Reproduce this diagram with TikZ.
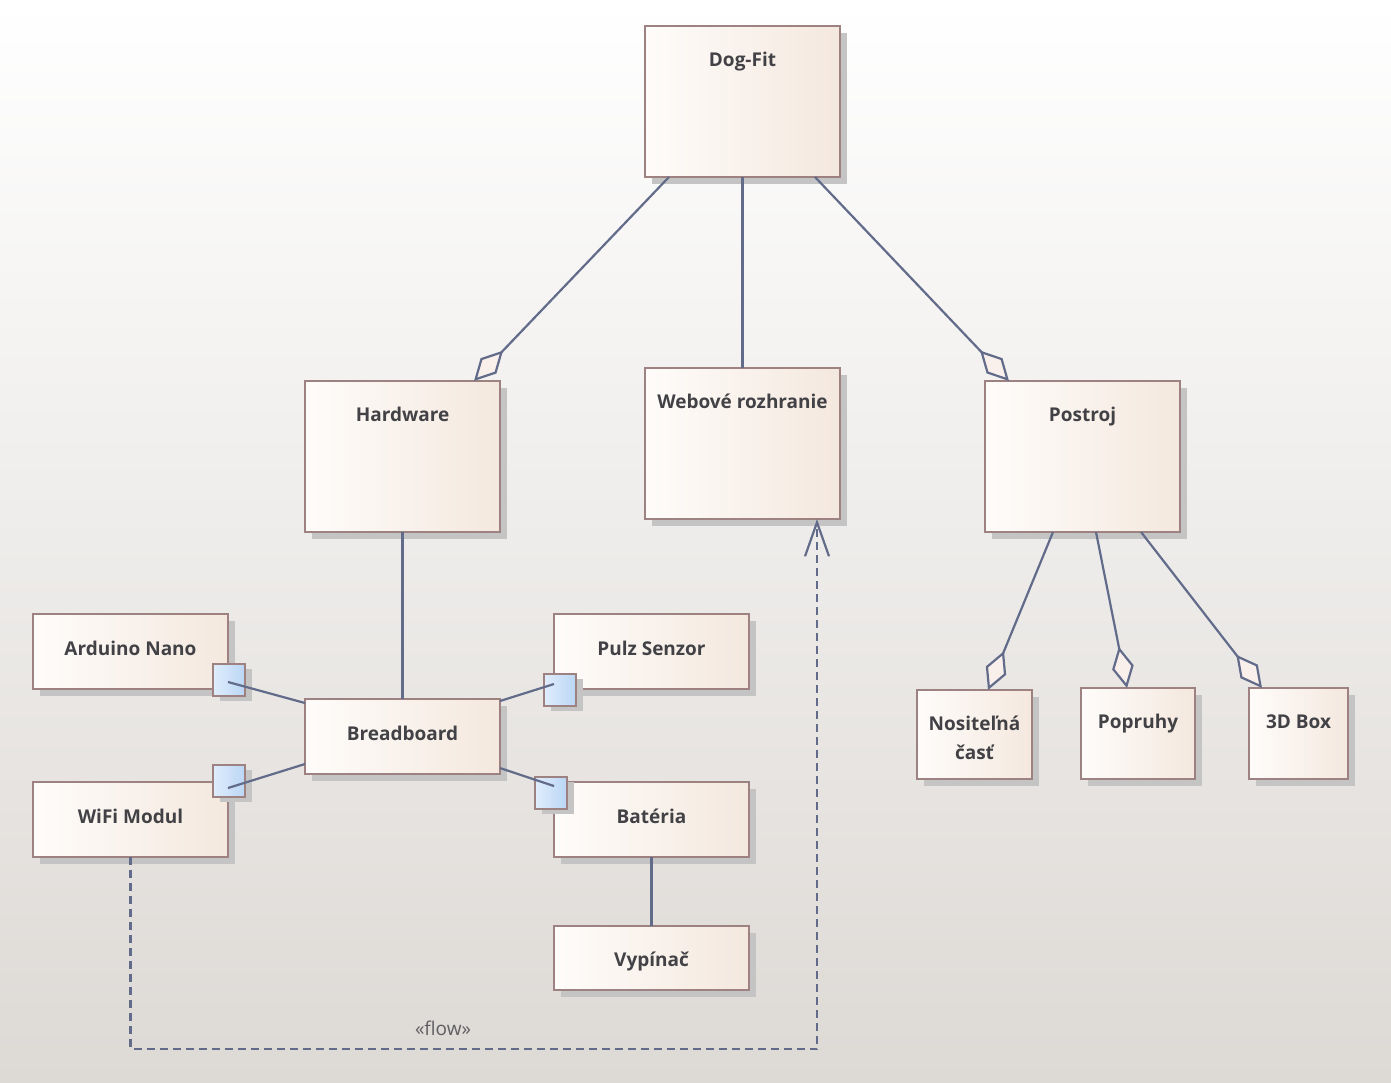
\documentclass[tikz,border=0pt]{standalone}
\usepackage{fontspec}
\setmainfont{Open Sans}
\usetikzlibrary{arrows.meta,shadows}
\definecolor{bgbot}{RGB}{221,217,213}
\definecolor{boxline}{RGB}{158,130,130}
\definecolor{boxleft}{RGB}{254,252,250}
\definecolor{boxright}{RGB}{244,232,222}
\definecolor{connc}{RGB}{98,108,138}
\definecolor{txt}{RGB}{66,66,70}
\definecolor{portl}{RGB}{224,237,252}
\definecolor{portr}{RGB}{186,214,245}
\definecolor{shad}{RGB}{196,196,196}
\definecolor{dfill}{RGB}{249,240,236}
\tikzset{
  box/.style={draw=boxline, line width=2.4pt, left color=boxleft, right color=boxright,
    anchor=north west, inner sep=0pt, outer sep=0pt,
    general shadow={fill=shad, shadow xshift=7pt, shadow yshift=-7pt},
    font=\fontsize{19}{29}\selectfont\bfseries, text=txt, align=center,
    text height=12pt, text depth=5pt},
  title/.style={font=\fontsize{19}{29}\selectfont\bfseries, text=txt, anchor=base,
    inner sep=0pt, yshift=-40pt, align=center},
  titled/.style={label={[title]north:#1}},
  port/.style={draw=boxline, line width=2.4pt, left color=portl, right color=portr,
    anchor=north west, minimum width=32pt, minimum height=32pt, inner sep=0pt, outer sep=0pt,
    general shadow={fill=shad, shadow xshift=7pt, shadow yshift=-5pt}},
  conn/.style={draw=connc, line width=2.2pt},
  agg/.style={conn, -{Diamond[fill=dfill, length=42pt, width=22pt, line width=2.2pt]}},
  flowline/.style={draw=connc, line width=2.2pt, dash pattern=on 8pt off 5pt,
    -{Straight Barb[length=34pt, width=24pt, line width=2.2pt]}},
  flowlabel/.style={font=\fontsize{19}{24}\selectfont, text=txt!85, anchor=base, inner sep=0pt}
}
\begin{document}
\begin{tikzpicture}[x=1pt, y=-1pt]
\shade[top color=white, bottom color=bgbot] (0,0) rectangle (1391,1082);
\useasboundingbox (0,0) rectangle (1391,1082);

% main boxes
\node[box, minimum width=195pt, minimum height=151pt, titled=Dog-Fit] (dogfit) at (645,26) {};
\node[box, minimum width=195pt, minimum height=151pt, titled=Hardware] (hardware) at (305,381) {};
\node[box, minimum width=195pt, minimum height=151pt, titled={Webové rozhranie}] (web) at (645,368) {};
\node[box, minimum width=195pt, minimum height=151pt, titled=Postroj] (postroj) at (985,381) {};

\node[box, minimum width=195pt, minimum height=75pt] (arduino) at (33,614) {Arduino Nano};
\node[box, minimum width=195pt, minimum height=75pt] (bb) at (305,699) {Breadboard};
\node[box, minimum width=195pt, minimum height=75pt] (pulz) at (554,614) {Pulz Senzor};
\node[box, minimum width=195pt, minimum height=75pt] (wifi) at (33,782) {WiFi Modul};
\node[box, minimum width=195pt, minimum height=75pt] (bateria) at (554,782) {Batéria};
\node[box, minimum width=195pt, minimum height=64pt, text height=16pt, text depth=0pt] (vyp) at (554,926) {Vypínač};

\node[box, minimum width=115pt, minimum height=89pt, label={[title, yshift=-29pt]north:Nositeľná\\časť}] (nos) at (917,690) {};
\node[box, minimum width=114pt, minimum height=91pt, titled=Popruhy] (popr) at (1081,688) {};
\node[box, minimum width=99pt, minimum height=91pt, titled={3D Box}] (box3d) at (1249,688) {};

% ports
\node[port] (parduino) at (213,664) {};
\node[port] (pwifi) at (213,765) {};
\node[port] (ppulz) at (544,674) {};
\node[port] (pbat) at (535,777) {};

% connectors
\draw[agg] ([xshift=24pt]dogfit.south west) -- ([xshift=169pt]hardware.north west);
\draw[conn] (dogfit.south) -- (web.north);
\draw[agg] ([xshift=170pt]dogfit.south west) -- ([xshift=24pt]postroj.north west);
\draw[conn] (hardware.south) -- (bb.north);
\draw[agg] ([xshift=68pt]postroj.south west) -- ([xshift=71pt]nos.north west);
\draw[agg] ([xshift=111pt]postroj.south west) -- ([xshift=46pt]popr.north west);
\draw[agg] ([xshift=156pt]postroj.south west) -- ([xshift=13pt]box3d.north west);

\draw[conn] ([yshift=-68pt]arduino.north east) -- ([yshift=-4pt]bb.north west);
\draw[conn] ([yshift=-6pt]wifi.north east) -- ([yshift=10pt]bb.south west);
\draw[conn] ([yshift=-70pt]pulz.north west) -- ([yshift=-2pt]bb.north east);
\draw[conn] ([yshift=-4pt]bateria.north west) -- ([yshift=6pt]bb.south east);
\draw[conn] (bateria.south) -- (vyp.north);

% flow
\coordinate (fcorner) at (817,1049);
\draw[flowline] (wifi.south) |- (fcorner) -- ([xshift=172pt]web.south west);
\node[flowlabel] (flowlbl) at (443,1035) {«flow»};
\end{tikzpicture}
\end{document}
